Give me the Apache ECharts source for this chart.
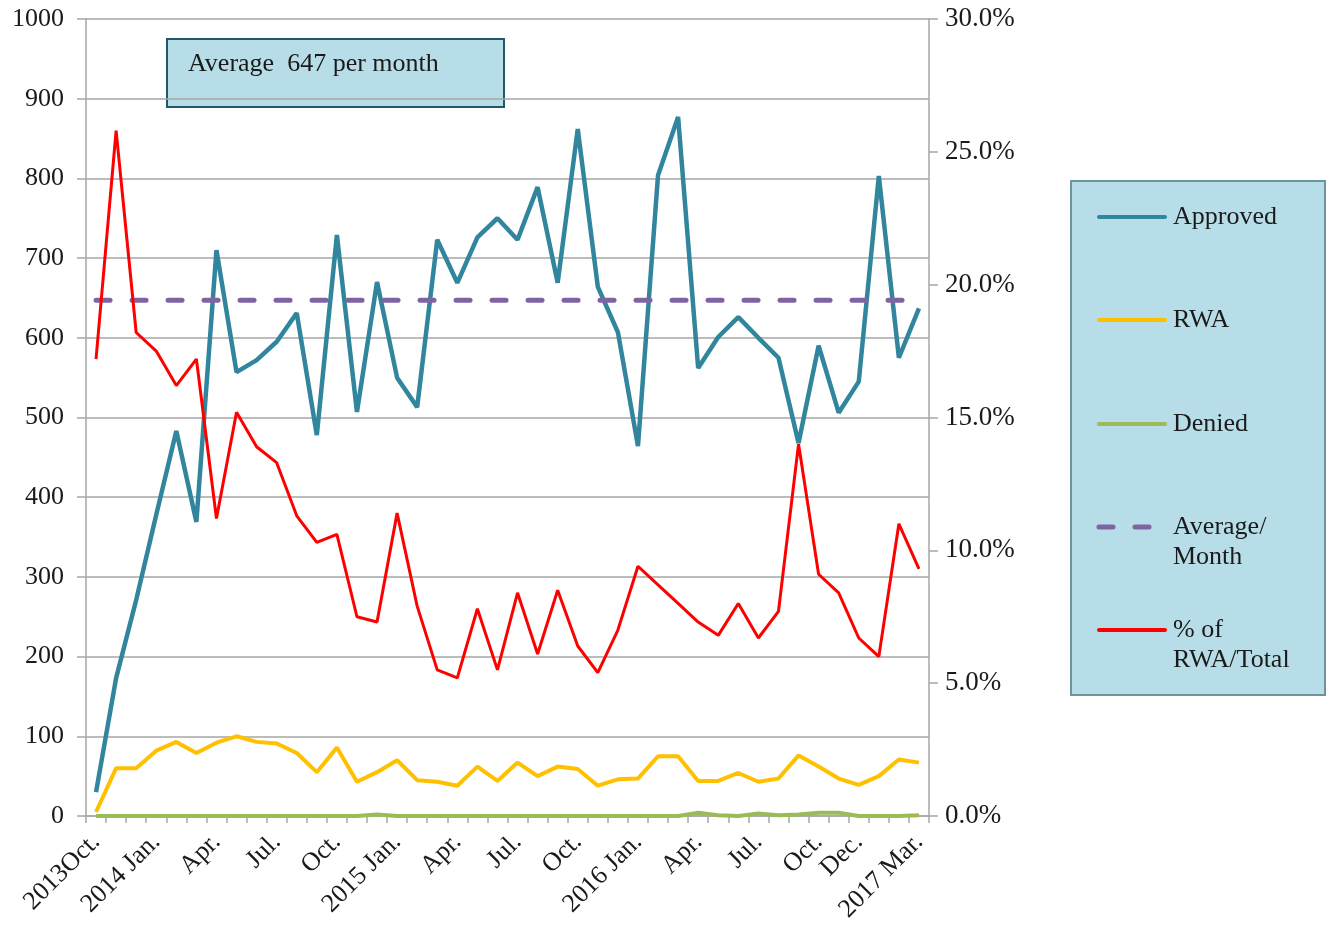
<!DOCTYPE html>
<html>
<head>
<meta charset="utf-8">
<script src="https://cdn.jsdelivr.net/npm/echarts@6/dist/echarts.min.js"></script>
<style>
  html, body { margin: 0; padding: 0; background: #fff; }
  #chart { width: 1330px; height: 931px; }
</style>
</head>
<body>
<div id="chart"></div>
<script>
// monthly approvals chart, Oct 2013 - Mar 2017
var months = [
  '2013 Oct.', '2013 Nov.', '2013 Dec.',
  '2014 Jan.', '2014 Feb.', '2014 Mar.', '2014 Apr.', '2014 May', '2014 Jun.',
  '2014 Jul.', '2014 Aug.', '2014 Sep.', '2014 Oct.', '2014 Nov.', '2014 Dec.',
  '2015 Jan.', '2015 Feb.', '2015 Mar.', '2015 Apr.', '2015 May', '2015 Jun.',
  '2015 Jul.', '2015 Aug.', '2015 Sep.', '2015 Oct.', '2015 Nov.', '2015 Dec.',
  '2016 Jan.', '2016 Feb.', '2016 Mar.', '2016 Apr.', '2016 May', '2016 Jun.',
  '2016 Jul.', '2016 Aug.', '2016 Sep.', '2016 Oct.', '2016 Nov.', '2016 Dec.',
  '2017 Jan.', '2017 Feb.', '2017 Mar.'
];

// labels shown under the axis (empty = no label)
var tickLabels = [
  '2013Oct.', '', '',
  '2014 Jan.', '', '', 'Apr.', '', '', 'Jul.', '', '', 'Oct.', '', '',
  '2015 Jan.', '', '', 'Apr.', '', '', 'Jul.', '', '', 'Oct.', '', '',
  '2016 Jan.', '', '', 'Apr.', '', '', 'Jul.', '', '', 'Oct.', '', 'Dec.',
  '', '', '2017 Mar.'
];

var approved = [
  30, 173, 271, 378, 483, 369, 710, 557, 572, 595, 631, 478,
  729, 507, 670, 550, 513, 723, 669, 726, 750, 723, 789, 669,
  862, 664, 607, 464, 804, 877, 562, 601, 626, 600, 575, 468,
  590, 506, 545, 803, 575, 637
];

var rwa = [
  5, 60, 60, 82, 93, 79, 92, 100, 93, 91, 79, 55,
  86, 43, 55, 70, 45, 43, 38, 62, 44, 67, 50, 62,
  59, 38, 46, 47, 75, 75, 44, 44, 54, 43, 47, 76,
  62, 47, 39, 50, 71, 67
];

var denied = [
  0, 0, 0, 0, 0, 0, 0, 0, 0, 0, 0, 0,
  0, 0, 2, 0, 0, 0, 0, 0, 0, 0, 0, 0,
  0, 0, 0, 0, 0, 0, 4, 1, 0, 3, 1, 2,
  4, 4, 0, 0, 0, 1
];

var averagePerMonth = 647;

// % of RWA / Total (right axis)
var rwaShare = [
  17.2, 25.8, 18.2, 17.5, 16.2, 17.2, 11.2, 15.2, 13.9, 13.3, 11.3, 10.3,
  10.6, 7.5, 7.3, 11.4, 7.9, 5.5, 5.2, 7.8, 5.5, 8.4, 6.1, 8.5,
  6.4, 5.4, 7.0, 9.4, 8.7, 8.0, 7.3, 6.8, 8.0, 6.7, 7.7, 14.0,
  9.1, 8.4, 6.7, 6.0, 11.0, 9.3
];

var leftTicks = { min: 0, max: 1000, step: 100 };
var rightTicks = { min: 0, max: 30, step: 5 };

var seriesNames = ['Approved', 'RWA', 'Denied', 'Average/\nMonth', '% of\nRWA/Total'];
var seriesColors = ['#31859C', '#FFC000', '#9BBB59', '#8064A2', '#FF0000'];

var serif = '"Liberation Serif", "Times New Roman", serif';
var gridGrey = '#A6A6A6';
var boxFill = '#B7DEE8';

var chart = echarts.init(document.getElementById('chart'));

// legend drawn as a box on the right, like the original sheet
var legendRows = [217, 320, 424, 527, 630];
var legendItems = [{
  type: 'rect',
  shape: { x: 1071, y: 181, width: 254, height: 514 },
  style: { fill: boxFill, stroke: '#6D949F', lineWidth: 2 }
}];
for (var i = 0; i < seriesNames.length; i++) {
  legendItems.push({
    type: 'line',
    shape: { x1: 1099, y1: legendRows[i], x2: 1165, y2: legendRows[i] },
    style: {
      stroke: seriesColors[i],
      lineWidth: i === 3 ? 5 : 4,
      lineCap: 'round',
      lineDash: i === 3 ? [14, 22] : null
    }
  });
  legendItems.push({
    type: 'text',
    style: {
      text: seriesNames[i],
      x: 1173,
      y: legendRows[i] - 15,
      font: '26px ' + serif,
      lineHeight: 30,
      fill: '#1a1a1a',
      verticalAlign: 'top'
    }
  });
}

var option = {
  animation: false,
  backgroundColor: '#fff',
  grid: { left: 86, right: 401, top: 19, bottom: 115 },
  xAxis: {
    type: 'category',
    data: months,
    boundaryGap: true,
    axisLine: { lineStyle: { color: gridGrey, width: 1.5 } },
    axisTick: { show: true, interval: 0, length: 7, lineStyle: { color: gridGrey, width: 1.5 } },
    axisLabel: {
      interval: 0,
      rotate: 45,
      margin: 22,
      fontFamily: serif,
      fontSize: 26,
      color: '#1a1a1a',
      formatter: function(v, idx) { return tickLabels[idx]; }
    },
    splitLine: { show: false }
  },
  yAxis: [{
    type: 'value',
    min: leftTicks.min, max: leftTicks.max, interval: leftTicks.step,
    axisLine: { show: true, lineStyle: { color: gridGrey, width: 1.5 } },
    axisTick: { show: true, length: 9, lineStyle: { color: gridGrey, width: 1.5 } },
    axisLabel: {
      margin: 22, fontFamily: serif, fontSize: 26, color: '#1a1a1a',
      formatter: function(v) { return String(v); }
    },
    splitLine: { show: true, lineStyle: { color: gridGrey, width: 1.5 } }
  }, {
    type: 'value',
    min: rightTicks.min, max: rightTicks.max, interval: rightTicks.step,
    position: 'right',
    axisLine: { show: true, lineStyle: { color: gridGrey, width: 1.5 } },
    axisTick: { show: true, length: 9, lineStyle: { color: gridGrey, width: 1.5 } },
    axisLabel: {
      margin: 16, fontFamily: serif, fontSize: 27, color: '#1a1a1a',
      formatter: function(v) { return v.toFixed(1) + '%'; }
    },
    splitLine: { show: false }
  }],
  series: [{
    name: 'Approved', type: 'line', data: approved,
    symbol: 'none', lineStyle: { color: seriesColors[0], width: 4.5 }
  }, {
    name: 'RWA', type: 'line', data: rwa,
    symbol: 'none', lineStyle: { color: seriesColors[1], width: 4 }
  }, {
    name: 'Denied', type: 'line', data: denied,
    symbol: 'none', lineStyle: { color: seriesColors[2], width: 4 }
  }, {
    name: 'Average/Month', type: 'line',
    data: months.map(function() { return averagePerMonth; }),
    symbol: 'none',
    lineStyle: { color: seriesColors[3], width: 5, type: [14, 22], cap: 'round' }
  }, {
    name: '% of RWA/Total', type: 'line', data: rwaShare, yAxisIndex: 1,
    symbol: 'none', lineStyle: { color: seriesColors[4], width: 3 }
  }],
  graphic: [{
    type: 'group',
    children: [{
      type: 'rect',
      shape: { x: 167, y: 39, width: 337, height: 68 },
      style: { fill: boxFill, stroke: '#215968', lineWidth: 2 }
    }, {
      type: 'text',
      style: {
        text: 'Average  ' + averagePerMonth + ' per month',
        x: 188, y: 64,
        font: '26px ' + serif,
        fill: '#1a1a1a',
        verticalAlign: 'middle'
      }
    }]
  }, {
    type: 'group',
    children: legendItems
  }]
};

chart.setOption(option);
</script>
</body>
</html>
